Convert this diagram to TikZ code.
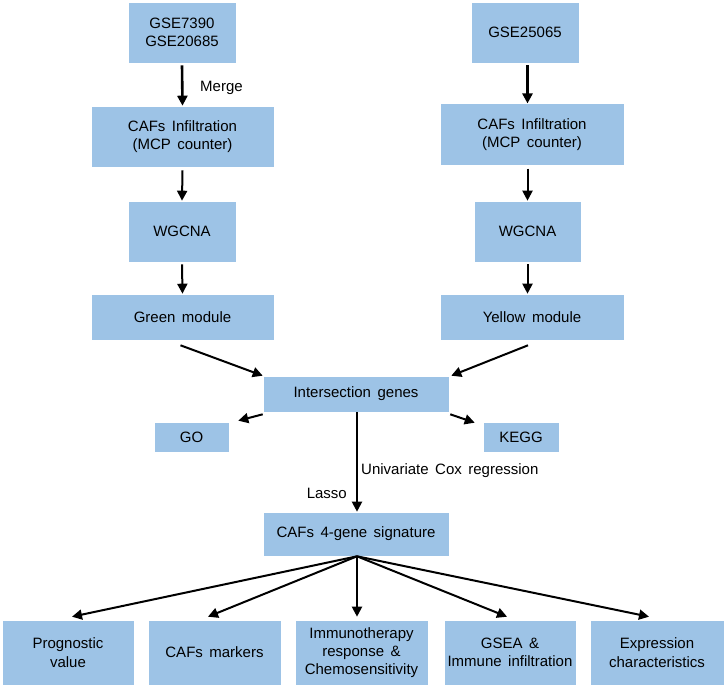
\documentclass[tikz,border=0pt]{standalone}
\usepackage{fontspec}
\setmainfont{Liberation Sans}
\usetikzlibrary{arrows.meta}
\definecolor{boxblue}{HTML}{9DC3E6}
\newcommand\mywsp{\spaceskip 6.5pt plus 1pt\relax}
\tikzset{
  bx/.style={rectangle, fill=boxblue, draw=white, line width=0.6pt, align=center, inner sep=2pt,
    font={\fontsize{15}{18.3}\selectfont\mywsp}, text=black},
  lowtext/.style={execute at begin node={\rule{0pt}{19pt}}},
  arr/.style={line width=2pt, -{Triangle[length=10pt,width=10pt]}},
  lbl/.style={font={\fontsize{15}{18}\selectfont\mywsp}, inner sep=0pt}
}
\begin{document}
\begin{tikzpicture}[x=1pt,y=-1pt]
\useasboundingbox (0,0) rectangle (725,687);
% top left column
\node[bx, minimum width=108pt, minimum height=61pt] (g1) at (182,32.5) {GSE7390\\GSE20685};
\node[bx, lowtext, minimum width=183pt, minimum height=61pt] (c1) at (182.5,136.5) {CAFs Infiltration\\(MCP counter)};
\node[bx, minimum width=108pt, minimum height=61pt] (w1) at (182,231.5) {WGCNA};
\node[bx, minimum width=183pt, minimum height=46pt] (gm) at (182.5,317) {Green module};
% top right column
\node[bx, minimum width=108pt, minimum height=61pt] (g2) at (525,32.5) {GSE25065};
\node[bx, lowtext, minimum width=184pt, minimum height=61.5pt] (c2) at (532,134.5) {CAFs Infiltration\\(MCP counter)};
\node[bx, minimum width=107pt, minimum height=61pt] (w2) at (527.5,231.5) {WGCNA};
\node[bx, minimum width=184pt, minimum height=46pt] (ym) at (532,317) {Yellow module};
% middle
\node[bx, minimum width=186pt, minimum height=36pt] (inter) at (356,394) {Intersection genes};
\node[bx, minimum width=75pt, minimum height=30pt] (go) at (191.5,437) {GO};
\node[bx, minimum width=76pt, minimum height=30pt] (kegg) at (521,437) {KEGG};
\node[bx, minimum width=186pt, minimum height=44pt] (sig) at (356,534) {CAFs 4-gene signature};
% bottom
\node[bx, minimum width=132pt, minimum height=65pt] (b1) at (68,652.5) {Prognostic\\value};
\node[bx, minimum width=133pt, minimum height=65pt] (b2) at (214.5,652.5) {CAFs markers};
\node[bx, minimum width=133pt, minimum height=65pt] (b3) at (361.5,652.5) {Immunotherapy\\response \&\\Chemosensitivity};
\node[bx, minimum width=132pt, minimum height=65pt] (b4) at (510,652.5) {GSEA \&\\Immune infiltration};
\node[bx, minimum width=134pt, minimum height=65pt] (b5) at (657,652.5) {Expression\\characteristics};
% arrows left column
\draw[arr, line width=2.6pt] ([yshift=-2pt]g1.south) -- (c1.north);
\draw[arr] ([yshift=-3pt]c1.south) -- (w1.north);
\draw[arr] ([yshift=-2pt]w1.south) -- (gm.north);
\node[lbl, anchor=west] (merge) at (200,88) {Merge};
% arrows right column
\draw[arr, line width=2.6pt] ([yshift=-2pt]w2 |- g2.south) -- (w2 |- c2.north);
\draw[arr] ([yshift=-3pt]w2 |- c2.south) -- (w2.north);
\draw[arr] ([yshift=-2pt]w2.south) -- (w2 |- ym.north);
% converge
\draw[arr] ([xshift=-2pt,yshift=-5pt]gm.south) -- (inter.north west);
\draw[arr] ([xshift=-4pt,yshift=-5pt]ym.south) -- ([xshift=2pt]inter.north east);
\draw[arr] ([yshift=-2pt]inter.south west) -- ([xshift=9pt,yshift=1pt]go.north east);
\draw[arr] ([xshift=1pt,yshift=-2pt]inter.south east) -- ([xshift=-8pt,yshift=-1pt]kegg.north west);
\draw[arr] ([xshift=1pt]inter.south) -- ([xshift=1pt]sig.north);
\node[lbl, anchor=west] (cox) at (361,471) {Univariate Cox regression};
\node[lbl, anchor=east] (lasso) at (347,493) {Lasso};
% fan out
\draw[arr] ([xshift=1pt]sig.south) -- ([xshift=4pt,yshift=3pt]b1.north);
\draw[arr] ([xshift=1pt]sig.south) -- ([xshift=-6.5pt,yshift=3pt]b2.north);
\draw[arr] ([xshift=1pt]sig.south) -- ([xshift=1pt,yshift=3pt]sig.south |- b3.north);
\draw[arr] ([xshift=1pt]sig.south) -- ([xshift=-3pt,yshift=3pt]b4.north);
\draw[arr] ([xshift=1pt]sig.south) -- ([xshift=-8pt,yshift=3pt]b5.north);
\end{tikzpicture}
\end{document}
